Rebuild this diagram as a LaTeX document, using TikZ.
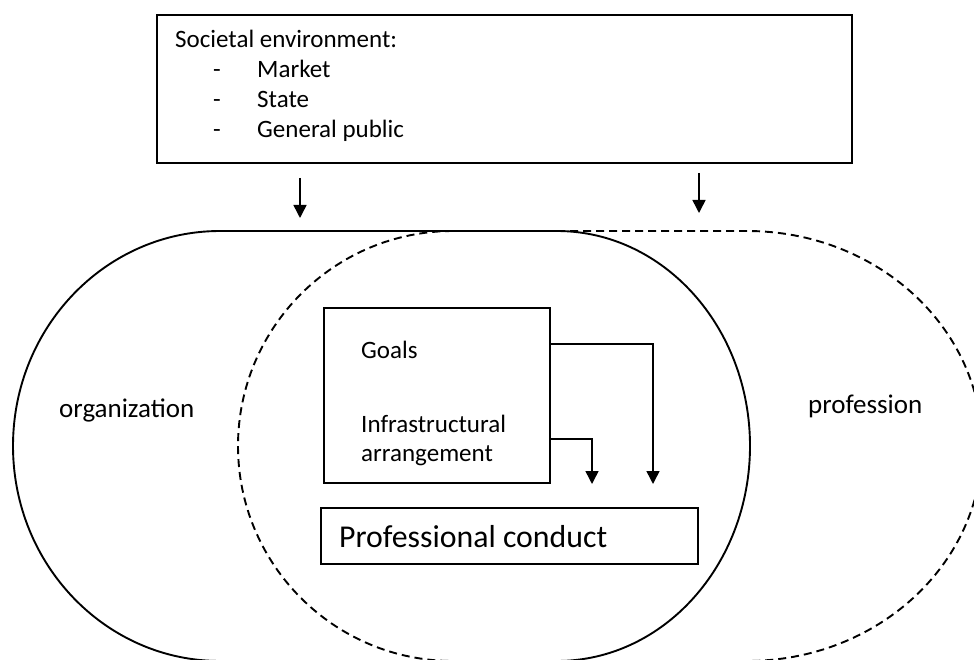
\documentclass[tikz,border=0pt]{standalone}
\usepackage{fontspec}
\setmainfont{Carlito}
\usetikzlibrary{arrows.meta}
\tikzset{
  orgline/.style={line width=1.9pt,black},
  profline/.style={line width=1.9pt,black,dash pattern=on 8pt off 5pt},
  boxthick/.style={draw,line width=1.8pt,inner sep=0pt},
  boxthin/.style={draw,line width=1.3pt,inner sep=0pt},
  arr/.style={line width=1.5pt,-{Triangle[length=13pt,width=13pt]}},
  lbl/.style={anchor=base west,inner sep=0pt,font=\fontsize{25}{29}\selectfont},
  sidelbl/.style={anchor=base west,inner sep=0pt,font=\fontsize{27}{31}\selectfont},
  biglbl/.style={anchor=base west,inner sep=0pt,font=\fontsize{31.8}{36}\selectfont},
}
\begin{document}
\begin{tikzpicture}[x=1pt,y=-1pt]
\useasboundingbox (0,0) rectangle (974,660);
\begin{scope}
\clip (0,0) rectangle (974,660);
% profession (dashed)
\draw[profline] (453,231) -- (747,231)
  arc[start angle=-90,end angle=90,x radius=235,y radius=215]
  -- (453,661)
  arc[start angle=90,end angle=270,x radius=215,y radius=215] -- cycle;
% organization (solid)
\draw[orgline] (220,231) -- (557,231)
  arc[start angle=-90,end angle=90,x radius=193,y radius=215]
  -- (220,661)
  arc[start angle=90,end angle=270,x radius=207,y radius=215] -- cycle;
\end{scope}
% societal environment box
\node[boxthick,minimum width=695pt,minimum height=148pt] (soc) at (504.5,89) {};
\node[lbl] (soct) at (175,48) {Societal environment:};
\node[lbl] (d1) at (213,78) {-};
\node[lbl] (d2) at (213,108) {-};
\node[lbl] (d3) at (213,138) {-};
\node[lbl] (mk) at (257,78) {Market};
\node[lbl] (st) at (257,108) {State};
\node[lbl] (gp) at (257,138) {General public};
% arrows from environment
\coordinate (a1s) at (300,178);
\coordinate (a1e) at (300,218);
\coordinate (a2s) at (699,173);
\coordinate (a2e) at (699,213);
\draw[arr] (a1s) -- (a1e);
\draw[arr] (a2s) -- (a2e);
% labels
\node[sidelbl] (org) at (59,417) {organization};
\node[sidelbl] (prof) at (808,413) {profession};
% goals box
\node[boxthin,minimum width=226pt,minimum height=175pt] (gb) at (437,395.5) {};
\node[lbl] (goals) at (361,358) {Goals};
\node[lbl] (infra1) at (361,432) {Infrastructural};
\node[lbl] (infra2) at (361,461) {arrangement};
% professional conduct box
\node[boxthin,minimum width=377pt,minimum height=56pt] (pc) at (509.5,536) {};
\node[biglbl] (pct) at (339,547) {Professional conduct};
% connectors
\coordinate (gout) at (gb.east |- 0,344);
\coordinate (gtip) at (653,484);
\coordinate (iout) at (gb.east |- 0,439);
\coordinate (itip) at (592,484);
\draw[arr] (gout) -| (gtip);
\draw[arr] (iout) -| (itip);
\end{tikzpicture}
\end{document}
